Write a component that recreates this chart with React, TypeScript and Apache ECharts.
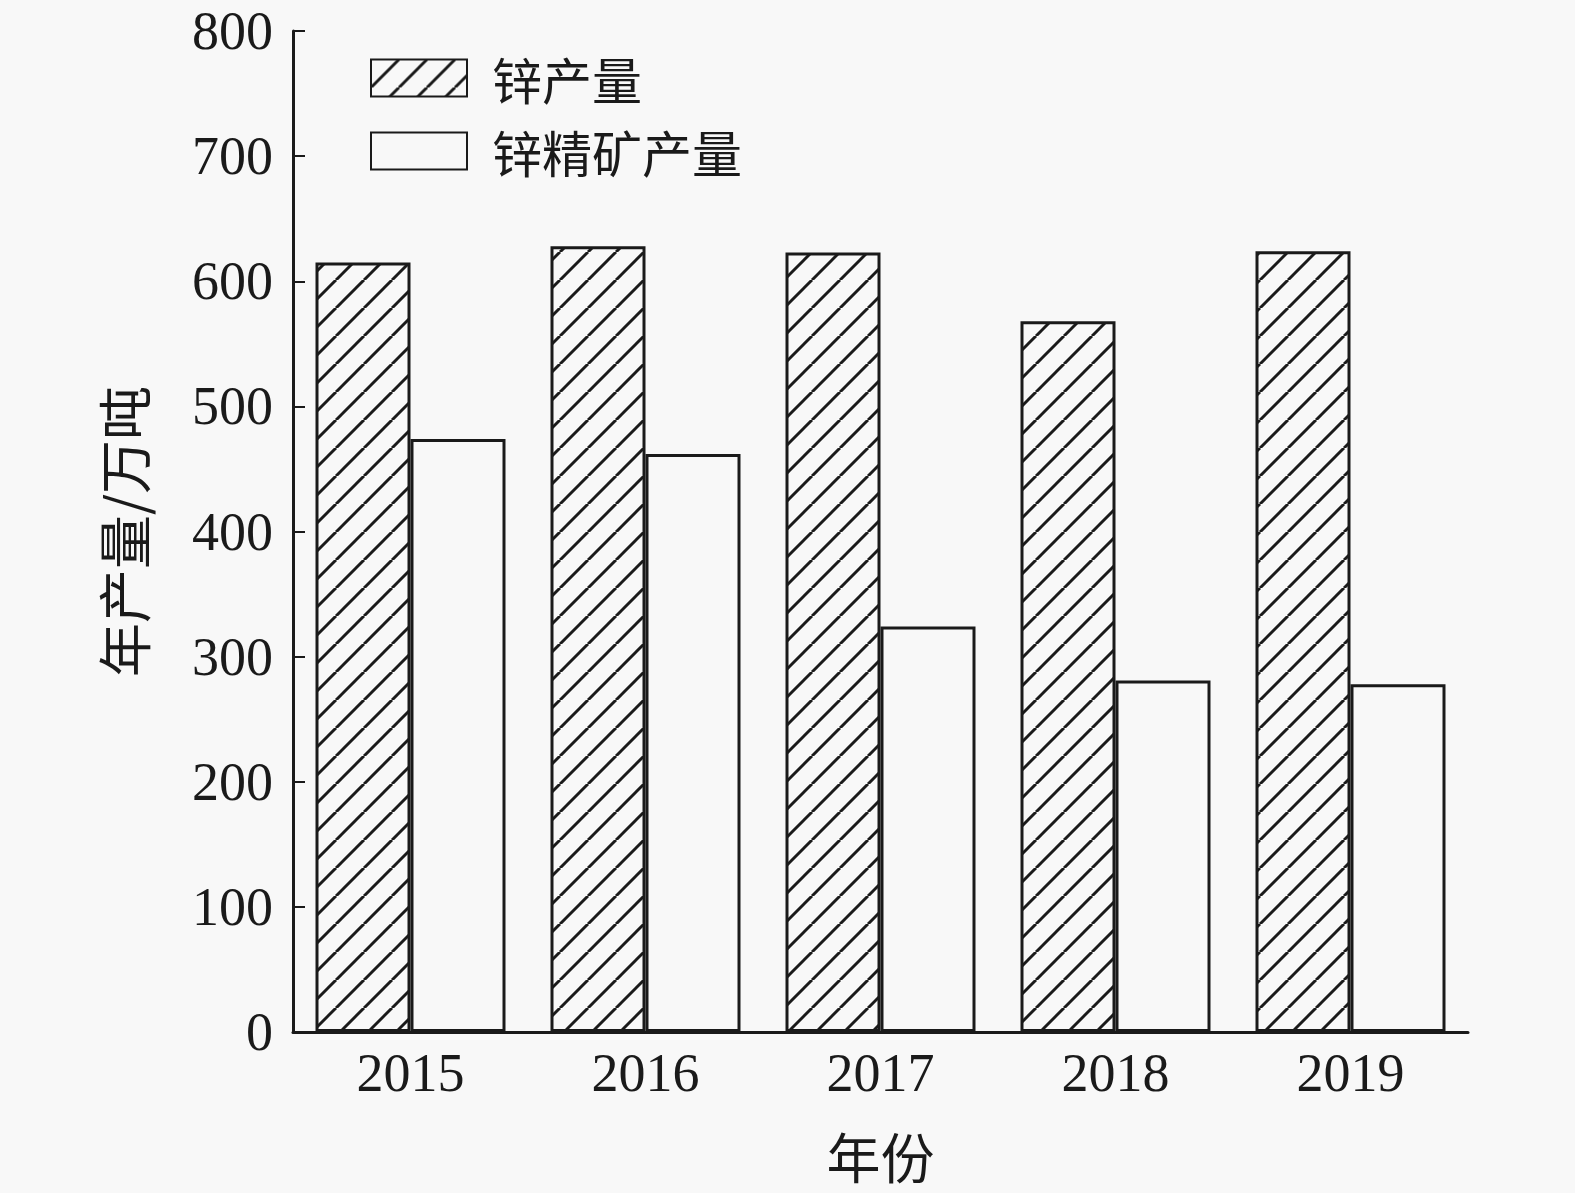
import { useEffect, useRef } from "react";
import * as echarts from "echarts";

// 年份 / 产量（万吨），
const years = ["2015", "2016", "2017", "2018", "2019"];
const zincOutput = [615, 628, 623, 568, 624];
const concentrateOutput = [474, 462, 324, 281, 278];
const seriesNames = ["锌产量", "锌精矿产量"];

const BG = "#f8f8f8";
const INK = "#1a1a1a";
const SERIF = "'Liberation Serif', 'Times New Roman', serif";
const CJK = "'Noto Sans CJK SC', sans-serif";

// diagonal "/" hatch tile, 45 degrees
function makeHatch(size: number) {
  const c = document.createElement("canvas");
  c.width = size;
  c.height = size;
  const ctx = c.getContext("2d")!;
  ctx.fillStyle = BG;
  ctx.fillRect(0, 0, size, size);
  ctx.strokeStyle = INK;
  ctx.lineWidth = 3;
  for (const o of [-size, 0, size]) {
    ctx.beginPath();
    ctx.moveTo(o, size);
    ctx.lineTo(size + o, 0);
    ctx.stroke();
  }
  return c;
}

export default function App() {
  const ref = useRef<HTMLDivElement>(null);

  useEffect(() => {
    if (!ref.current) return;
    const chart = echarts.init(ref.current, undefined, { renderer: "svg" });
    const tile = 28;
    const hatch = {
      image: makeHatch(tile),
      repeat: "repeat",
      imageWidth: tile,
      imageHeight: tile,
    };

    chart.setOption({
      animation: false,
      backgroundColor: BG,
      grid: { left: 293, right: 107, top: 31, bottom: 161 },
      legend: {
        left: 370,
        top: 51,
        padding: 0,
        orient: "vertical",
        icon: "rect",
        itemWidth: 96,
        itemHeight: 37,
        itemGap: 19,
        data: seriesNames,
        textStyle: {
          fontFamily: CJK,
          fontSize: 50,
          lineHeight: 54,
          color: INK,
          padding: [0, 0, 0, 20],
        },
      },
      xAxis: {
        type: "category",
        data: years,
        name: "年份",
        nameLocation: "middle",
        nameGap: 96,
        nameTextStyle: { fontFamily: CJK, fontSize: 54, color: INK },
        axisLine: { lineStyle: { color: INK, width: 3 } },
        axisTick: { show: false },
        axisLabel: {
          fontFamily: SERIF,
          fontSize: 54,
          color: INK,
          margin: 14,
        },
      },
      yAxis: {
        type: "value",
        min: 0,
        max: 800,
        interval: 100,
        name: "年产量/万吨",
        nameLocation: "middle",
        nameRotate: 90,
        nameGap: 144,
        nameTextStyle: { fontFamily: CJK, fontSize: 54, color: INK },
        axisLine: { show: true, lineStyle: { color: INK, width: 3 } },
        axisTick: {
          show: true,
          inside: true,
          length: 12,
          lineStyle: { color: INK, width: 2 },
        },
        splitLine: { show: false },
        axisLabel: {
          fontFamily: SERIF,
          fontSize: 54,
          color: INK,
          margin: 20,
          padding: [0, 0, 8, 0],
        },
      },
      series: [
        {
          name: seriesNames[0],
          type: "bar",
          data: zincOutput,
          barWidth: 95,
          barGap: "0%",
          itemStyle: { color: hatch, borderColor: INK, borderWidth: 3 },
        },
        {
          name: seriesNames[1],
          type: "bar",
          data: concentrateOutput,
          barWidth: 95,
          barGap: "0%",
          itemStyle: { color: BG, borderColor: INK, borderWidth: 3 },
        },
      ],
    });

    return () => chart.dispose();
  }, []);

  return (
    <div
      ref={ref}
      style={{ position: "absolute", left: 0, top: 0, width: 1575, height: 1193 }}
    />
  );
}
